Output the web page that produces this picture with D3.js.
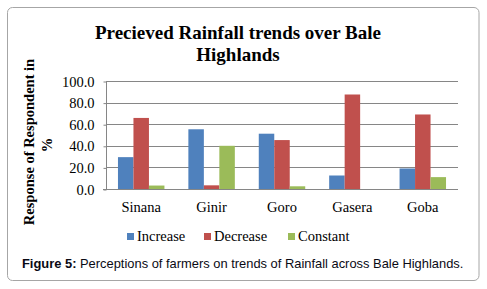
<!DOCTYPE html>
<html><head><meta charset="utf-8">
<script src="https://cdn.jsdelivr.net/npm/d3@7"></script>
<style>body{margin:0;background:#fff;}svg{display:block;}</style>
</head><body>
<script>
const categories = ["Sinana", "Ginir", "Goro", "Gasera", "Goba"];
const seriesNames = ["Increase", "Decrease", "Constant"];
const increase = [29.5, 55.3, 51.2, 12.5, 19.0];
const decrease = [65.8, 3.4, 45.3, 87.5, 69.0];
const constant = [3.2, 40.0, 2.5, 0.0, 11.0];
const yTicks = [0, 20, 40, 60, 80, 100];
const colors = ["#4F81BD", "#C0504D", "#9BBB59"];
const titleLines = ["Precieved Rainfall trends over Bale", "Highlands"];
const yLabelLines = ["Response of Respondent in", "%"];
const captionBold = "Figure 5:";
const captionText = " Perceptions of farmers on trends of Rainfall across Bale Highlands.";

const W = 487, H = 289;
const serif = "'Liberation Serif','Times New Roman',serif";
const sans = "'Liberation Sans',Arial,sans-serif";
const svg = d3.select("body").append("svg").attr("width", W).attr("height", H);

svg.append("rect").attr("x", 7.5).attr("y", 7.5).attr("width", 471.5).attr("height", 273)
  .attr("rx", 5).attr("fill", "#fff").attr("stroke", "#a6a6a6").attr("stroke-width", 1);

const x0 = d3.scaleBand().domain(categories).range([106, 458]).paddingInner(0.34).paddingOuter(0.17);
const x1 = d3.scaleBand().domain(seriesNames).range([0, x0.bandwidth()]);
const y = d3.scaleLinear().domain([0, 100]).range([189, 81]);

// gridlines
svg.append("g").selectAll("line").data(yTicks.filter(d => d > 0)).join("line")
  .attr("x1", 106).attr("x2", 458).attr("y1", d => Math.round(y(d)) + 0.5).attr("y2", d => Math.round(y(d)) + 0.5)
  .attr("stroke", "#868686").attr("stroke-width", 1);

const data = [increase, decrease, constant];
const g = svg.append("g");
categories.forEach((c, i) => {
  seriesNames.forEach((s, j) => {
    const v = data[j][i];
    g.append("rect").attr("x", x0(c) + x1(s)).attr("width", x1.bandwidth())
      .attr("y", y(v)).attr("height", y(0) - y(v)).attr("fill", colors[j]);
  });
});

// y axis
const yAxis = d3.axisLeft(y).tickValues(yTicks).tickFormat(d3.format(".1f")).tickSize(3).tickPadding(9);
const ya = svg.append("g").attr("transform", "translate(106.5,0.5)").call(yAxis);
ya.select(".domain").attr("stroke", "#868686").attr("d", "M0," + y(100) + "V" + y(0));
ya.selectAll(".tick line").attr("stroke", "#868686");
ya.selectAll("text").attr("font-family", serif).attr("font-size", 14.5).attr("fill", "#000");

// x axis
const xAxis = d3.axisBottom(x0).tickSize(0).tickPadding(12);
const xa = svg.append("g").attr("transform", "translate(0," + (Math.round(y(0)) + 0.5) + ")").call(xAxis);
xa.select(".domain").attr("stroke", "#868686").attr("d", "M103,0H458");
xa.selectAll("text").attr("font-family", serif).attr("font-size", 14.5).attr("fill", "#000");

// title
svg.append("text").attr("x", 238).attr("y", 39).attr("text-anchor", "middle")
  .attr("font-family", serif).attr("font-weight", "bold").attr("font-size", 19).text(titleLines[0]);
svg.append("text").attr("x", 238).attr("y", 61).attr("text-anchor", "middle")
  .attr("font-family", serif).attr("font-weight", "bold").attr("font-size", 19).text(titleLines[1]);

// y label
svg.append("text").attr("transform", "translate(34,142) rotate(-90)").attr("text-anchor", "middle")
  .attr("font-family", serif).attr("font-weight", "bold").attr("font-size", 14.5).text(yLabelLines[0]);
svg.append("text").attr("transform", "translate(52,145) rotate(-90)").attr("text-anchor", "middle")
  .attr("font-family", serif).attr("font-weight", "bold").attr("font-size", 14.5).text(yLabelLines[1]);

// legend
const legendX = [127, 204, 288];
seriesNames.forEach((s, j) => {
  svg.append("rect").attr("x", legendX[j]).attr("y", 233).attr("width", 7).attr("height", 7).attr("fill", colors[j]);
  svg.append("text").attr("x", legendX[j] + 10).attr("y", 241).attr("font-family", serif).attr("font-size", 14.5)
    .attr("fill", "#000").text(s);
});

// caption
const cap = svg.append("text").attr("x", 22).attr("y", 268).attr("font-family", sans).attr("font-size", 12.9).attr("fill", "#0a0a14");
cap.append("tspan").attr("font-weight", "bold").text(captionBold);
cap.append("tspan").text(captionText);
</script>
</body></html>
